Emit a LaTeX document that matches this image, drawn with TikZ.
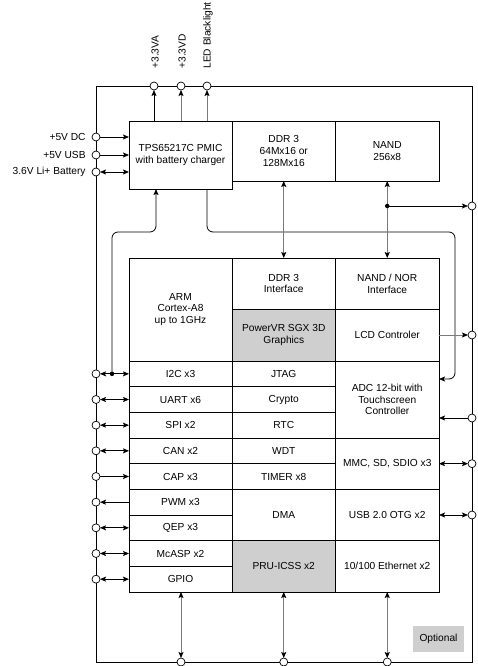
\documentclass[tikz,border=0pt]{standalone}
\usepackage{fontspec}
\setmainfont{Liberation Sans}
\usetikzlibrary{arrows.meta}
\definecolor{optgray}{HTML}{CFCFCF}
\definecolor{lgray}{HTML}{7A7A7A}
\begin{document}
\begin{tikzpicture}[x=1pt,y=-1pt,
  font=\fontsize{10.2}{11.8}\selectfont,
  >={Stealth[length=6pt,width=5pt,inset=1.2pt,color=black]},
  line width=0.8pt,
  cell/.style={draw=black,line width=0.8pt,inner sep=0pt,outer sep=0pt,align=center},
  port/.style={circle,draw=black,fill=white,line width=0.7pt,minimum size=8pt,inner sep=0pt,outer sep=0pt},
  jdot/.style={circle,fill=black,minimum size=4.5pt,inner sep=0pt},
  gline/.style={draw=lgray},
  lab/.style={inner sep=0pt}]
\useasboundingbox (0,0) rectangle (478,666);
% outer frame
\draw (96,86) rectangle (472,662);
% top boxes
\node[cell,minimum width=103pt,minimum height=68pt] (pmic) at (180.5,155) {TPS65217C PMIC\\with battery charger};
\node[cell,minimum width=103.5pt,minimum height=60pt] (ddr) at (283.75,151) {DDR 3\\64Mx16 or\\128Mx16};
\node[cell,minimum width=103.5pt,minimum height=60pt] (nand) at (387.25,151) {NAND\\256x8};
% column 1
\node[cell,minimum width=103pt,minimum height=103pt] (arm) at (180.5,309.5) {ARM\\Cortex-A8\\up to 1GHz};
\node[cell,minimum width=103pt,minimum height=25.67pt] (i2c) at (180.5,373.83) {I2C x3};
\node[cell,minimum width=103pt,minimum height=25.67pt] (uart) at (180.5,399.5) {UART x6};
\node[cell,minimum width=103pt,minimum height=25.67pt] (spi) at (180.5,425.17) {SPI x2};
\node[cell,minimum width=103pt,minimum height=25.67pt] (can) at (180.5,450.83) {CAN x2};
\node[cell,minimum width=103pt,minimum height=25.67pt] (cap) at (180.5,476.5) {CAP x3};
\node[cell,minimum width=103pt,minimum height=25.67pt] (pwm) at (180.5,502.17) {PWM x3};
\node[cell,minimum width=103pt,minimum height=25.67pt] (qep) at (180.5,527.83) {QEP x3};
\node[cell,minimum width=103pt,minimum height=25.67pt] (mcasp) at (180.5,553.5) {McASP x2};
\node[cell,minimum width=103pt,minimum height=25.67pt] (gpio) at (180.5,579.17) {GPIO};
% column 2
\node[cell,minimum width=103.5pt,minimum height=51pt] (ddri) at (283.75,283.5) {DDR 3\\Interface};
\node[cell,fill=optgray,minimum width=103.5pt,minimum height=52pt] (pvr) at (283.75,335) {PowerVR SGX 3D\\Graphics};
\node[cell,minimum width=103.5pt,minimum height=25.67pt] (jtag) at (283.75,373.83) {JTAG};
\node[cell,minimum width=103.5pt,minimum height=25.67pt] (crypto) at (283.75,399.5) {Crypto};
\node[cell,minimum width=103.5pt,minimum height=25.67pt] (rtc) at (283.75,425.17) {RTC};
\node[cell,minimum width=103.5pt,minimum height=25.67pt] (wdt) at (283.75,450.83) {WDT};
\node[cell,minimum width=103.5pt,minimum height=25.67pt] (timer) at (283.75,476.5) {TIMER x8};
\node[cell,minimum width=103.5pt,minimum height=51.33pt] (dma) at (283.75,515) {DMA};
\node[cell,fill=optgray,minimum width=103.5pt,minimum height=51.33pt] (pru) at (283.75,566.33) {PRU-ICSS x2};
% column 3
\node[cell,minimum width=103.5pt,minimum height=51pt] (nandi) at (387.25,283.5) {NAND / NOR\\Interface};
\node[cell,minimum width=103.5pt,minimum height=52pt] (lcd) at (387.25,335) {LCD Controler};
\node[cell,minimum width=103.5pt,minimum height=77pt] (adc) at (387.25,399.5) {ADC 12-bit with\\Touchscreen\\Controller};
\node[cell,minimum width=103.5pt,minimum height=51.33pt] (mmc) at (387.25,463.67) {MMC, SD, SDIO x3};
\node[cell,minimum width=103.5pt,minimum height=51.33pt] (usb) at (387.25,515) {USB 2.0 OTG x2};
\node[cell,minimum width=103.5pt,minimum height=51.33pt] (eth) at (387.25,566.33) {10/100 Ethernet x2};
% optional legend
\node[fill=optgray,minimum width=51pt,minimum height=26pt,inner sep=0pt] (opt) at (438.5,639) {Optional};
% top ports
\node[port] (va) at (154,86) {};
\node[port] (vd) at (181,86) {};
\node[port] (led) at (207,86) {};
\node[lab,rotate=90,anchor=west] (lva) at (155,69) {+3.3VA};
\node[lab,rotate=90,anchor=west] (lvd) at (182,69) {+3.3VD};
\node[lab,rotate=90,anchor=west] (lled) at (208,69) {LED Blacklight};
\draw[->] (va |- pmic.north) -- (va);
\draw[->,gline] (vd |- pmic.north) -- (vd);
\draw[->,gline] (led |- pmic.north) -- (led);
% left power inputs
\node[port] (pdc) at (96,137) {};
\node[port] (pusb) at (96,155) {};
\node[port] (pbat) at (96,172) {};
\node[lab,anchor=east] (ldc) at (86,137) {+5V DC};
\node[lab,anchor=east] (lusb) at (86,155) {+5V USB};
\node[lab,anchor=east] (lbat) at (86,172) {3.6V Li+ Battery};
\draw[->] (pdc) -- (pdc -| pmic.west);
\draw[->] (pusb) -- (pusb -| pmic.west);
\draw[<->] (pbat) -- (pbat -| pmic.west);
% left peripheral ports
\node[port] (pi2c) at (96,373.83) {};
\node[port] (puart) at (96,399.5) {};
\node[port] (pspi) at (96,425.17) {};
\node[port] (pcan) at (96,450.83) {};
\node[port] (pcap) at (96,476.5) {};
\node[port] (ppwm) at (96,502.17) {};
\node[port] (pqep) at (96,527.83) {};
\node[port] (pmcasp) at (96,553.5) {};
\node[port] (pgpio) at (96,579.17) {};
\draw[<->] (pi2c) -- (i2c.west);
\draw[<->] (puart) -- (uart.west);
\draw[<->] (pspi) -- (spi.west);
\draw[<->] (pcan) -- (can.west);
\draw[->] (pcap) -- (cap.west);
\draw[<-] (ppwm) -- (pwm.west);
\draw[<->] (pqep) -- (qep.west);
\draw[<->] (pmcasp) -- (mcasp.west);
\draw[<->] (pgpio) -- (gpio.west);
% I2C to PMIC
\node[jdot] (d1) at (112,373.83) {};
\coordinate (k1) at (112,232);
\coordinate (k2) at (156,232);
\draw[->,rounded corners=6pt] (d1.center) -- (k1) -- (k2) -- (k2 |- pmic.south);
% PMIC to ADC
\coordinate (k3) at (207,232);
\coordinate (k4) at (455,232);
\coordinate (k5) at (455,379);
\draw[->,rounded corners=6pt] (k3 |- pmic.south) -- (k3) -- (k4) -- (k5) -- (k5 -| adc.east);
% memory buses
\draw[<->,gline] (ddr.south) -- (ddr.south |- ddri.north);
\draw[<->,gline] (nand.south) -- (nand.south |- nandi.north);
\node[port] (pnand) at (472,206) {};
\node[jdot] (d2) at (387.25,206) {};
\draw[->] (d2.center) -- (pnand);
% right ports
\node[port] (plcd) at (472,335) {};
\node[port] (padc) at (472,418) {};
\node[port] (pmmc) at (472,463.67) {};
\node[port] (pusbo) at (472,515) {};
\draw[->,gline] (lcd.east) -- (plcd);
\draw[->] (padc) -- (padc -| adc.east);
\draw[<->] (pmmc) -- (mmc.east);
\draw[<->] (pusbo) -- (usb.east);
% bottom ports
\node[port] (bg) at (181,662) {};
\node[port] (bp) at (283.75,662) {};
\node[port] (be) at (387.25,662) {};
\draw[<->,gline] (bg |- gpio.south) -- (bg);
\draw[<->,gline] (pru.south) -- (bp);
\draw[<->,gline] (eth.south) -- (be);
\end{tikzpicture}
\end{document}
